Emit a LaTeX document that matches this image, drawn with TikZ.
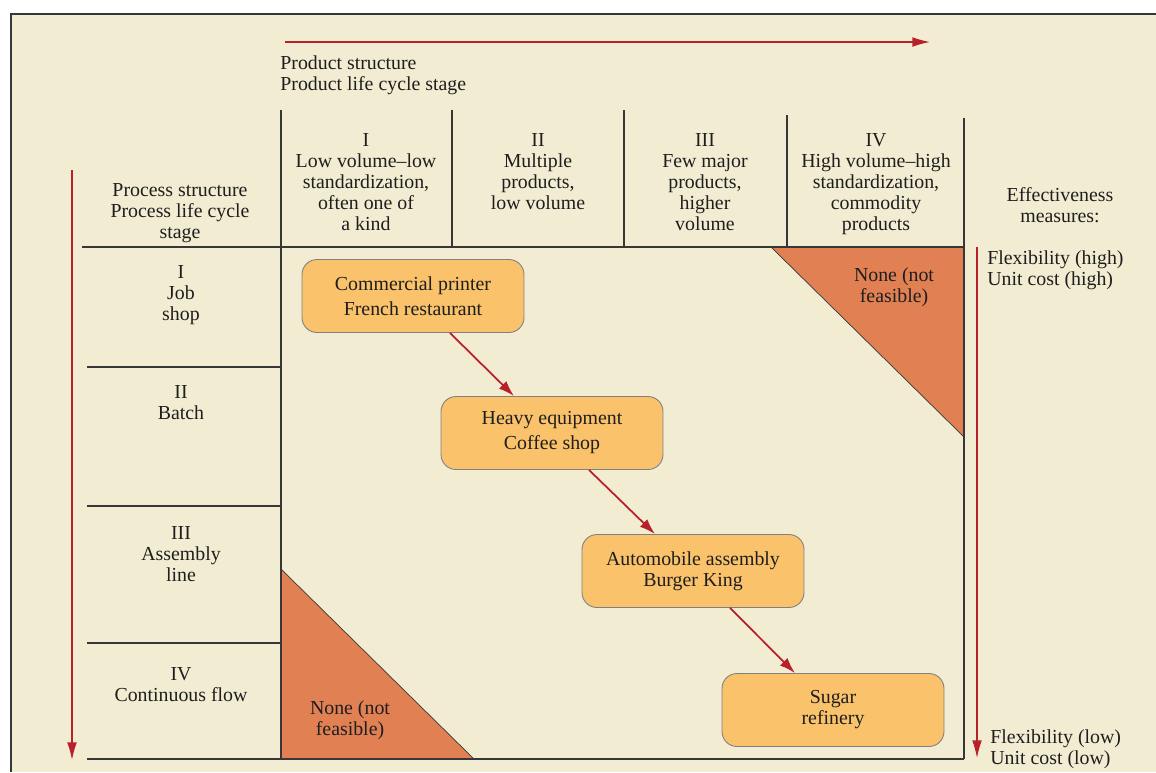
\documentclass[tikz,border=0pt]{standalone}
\usepackage{fontspec}
\setmainfont{Liberation Serif}
\usetikzlibrary{arrows.meta,calc}
\definecolor{cream}{RGB}{242,237,210}
\definecolor{boxfill}{RGB}{250,194,106}
\definecolor{tri}{RGB}{225,128,83}
\definecolor{redarrow}{RGB}{185,32,42}
\definecolor{framecol}{RGB}{55,55,55}
\definecolor{inkcol}{RGB}{30,30,30}
\begin{document}
\begin{tikzpicture}[x=0.02cm,y=-0.02cm,
  txt/.style={font=\fontsize{11.3}{12}\selectfont, align=center, inner sep=0pt, text=inkcol},
  stagebox/.style={draw=black!50, line width=0.5pt, fill=boxfill, rounded corners=0.3cm,
    minimum width=4.44cm, minimum height=1.46cm, align=center, inner sep=0pt, text=inkcol},
  gridline/.style={draw=framecol, line width=0.8pt},
  axis/.style={draw=redarrow, line width=0.7pt, -{Latex[length=10pt,width=5.5pt]}},
  flow/.style={draw=redarrow, line width=1pt, -{Latex[length=9pt,width=6pt]}}]
\useasboundingbox (0,0) rectangle (1156,772);
\fill[white] (0,0) rectangle (1156,772);
\fill[cream] (11,14) rectangle (1156,772);
\draw[framecol, line width=0.8pt] (1156,14) -- (11,14) -- (11,772);

% infeasible triangles
\fill[tri] (771,247) -- (964,247) -- (964,437) -- cycle;
\draw[framecol, line width=0.4pt] (771,247) -- (964,437);
\fill[tri] (281,569) -- (281,759) -- (474,759) -- cycle;
\draw[framecol, line width=0.4pt] (281,569) -- (474,759);

% grid
\draw[gridline] (82,247) -- (964,247);
\draw[gridline] (281,110) -- (281,759);
\draw[gridline] (452,110) -- (452,247);
\draw[gridline] (624,110) -- (624,247);
\draw[gridline] (787,115) -- (787,247);
\draw[gridline] (964,118) -- (964,759);
\draw[gridline] (87,367) -- (281,367);
\draw[gridline] (87,506) -- (281,506);
\draw[gridline] (87,643) -- (281,643);
\draw[gridline] (87,759) -- (964,759);

% axis arrows
\coordinate (topA) at (285,42);
\coordinate (topB) at (930,42);
\draw[axis] (topA) -- (topB);
\coordinate (leftA) at (72,170);
\coordinate (leftB) at (72,760);
\draw[axis] (leftA) -- (leftB);
\coordinate (rightA) at (977,247);
\coordinate (rightB) at (977,758);
\draw[axis] (rightA) -- (rightB);

% texts
\node[txt, anchor=north west, align=left] (prod) at (280,55) {Product structure\\Product life cycle stage};
\node[txt, anchor=north] (proc) at (180,183) {Process structure\\Process life cycle\\stage};
\node[txt, anchor=north] (c1) at (366,133) {I\\Low volume--low\\standardization,\\often one of\\a kind};
\node[txt, anchor=north] (c2) at (538,133) {II\\Multiple\\products,\\low volume};
\node[txt, anchor=north] (c3) at (705,133) {III\\Few major\\products,\\higher\\volume};
\node[txt, anchor=north] (c4) at (876,133) {IV\\High volume--high\\standardization,\\commodity\\products};
\node[txt, anchor=north] (eff) at (1060,187) {Effectiveness\\measures:};

\node[txt, anchor=north] (r1) at (181,265) {I\\Job\\shop};
\node[txt, anchor=north] (r2) at (181,385) {II\\Batch};
\node[txt, anchor=north] (r3) at (181,526) {III\\Assembly\\line};
\node[txt, anchor=north] (r4) at (181,667) {IV\\Continuous flow};

\node[txt, anchor=north] (nf1) at (894,267) {None (not\\feasible)};
\node[txt, anchor=north] (nf2) at (350,700) {None (not\\feasible)};

\node[txt, anchor=north west, align=left] (hi) at (987,250) {Flexibility (high)\\Unit cost (high)};
\node[txt, anchor=north west, align=left] (lo) at (990,729) {Flexibility (low)\\Unit cost (low)};

% stage boxes
\node[stagebox, font=\fontsize{11.3}{14.2}\selectfont] (b1) at (413,296) {Commercial printer\\French restaurant};
\node[stagebox, font=\fontsize{11.3}{14.2}\selectfont] (b2) at (552,433) {Heavy equipment\\Coffee shop};
\node[stagebox, font=\fontsize{11.3}{12}\selectfont] (b3) at (693,571) {Automobile assembly\\Burger King};
\node[stagebox, font=\fontsize{11.3}{12}\selectfont] (b4) at (833,710) {Sugar\\refinery};

\draw[flow] ($(b1.south)+(37,0)$) -- ($(b2.north)+(-38,0)$);
\draw[flow] ($(b2.south)+(37,0)$) -- ($(b3.north)+(-38,0)$);
\draw[flow] ($(b3.south)+(37,0)$) -- ($(b4.north)+(-38,0)$);
\end{tikzpicture}
\end{document}
